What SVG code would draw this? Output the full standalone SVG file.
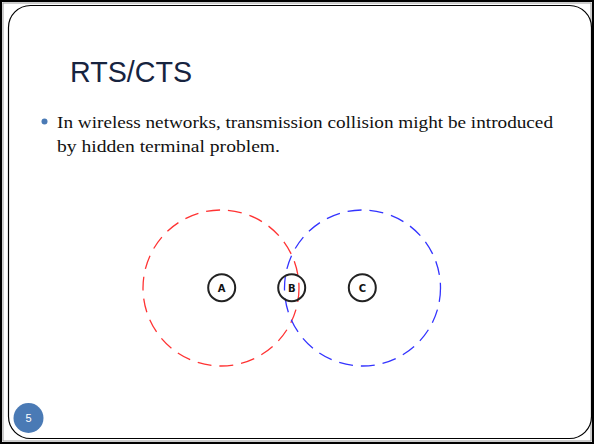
<svg xmlns="http://www.w3.org/2000/svg" width="594" height="444" viewBox="0 0 594 444">
<style>
.node circle{fill:#fff;stroke:#222;stroke-width:2}
.node text{font-family:"DejaVu Sans",sans-serif;font-weight:bold;font-size:10px;fill:#111;text-anchor:middle}
.range{fill:none;stroke-width:1.3;stroke-dasharray:14 8}
.body{font-family:"Liberation Serif",serif;font-size:17.5px;fill:#111}
</style>
<rect x="0" y="0" width="594" height="444" fill="#fff"/>
<rect x="1" y="1" width="592" height="442" fill="none" stroke="#000" stroke-width="2"/>
<rect x="3" y="3" width="588" height="438" fill="none" stroke="#999" stroke-width="1"/>
<rect x="8.5" y="5.5" width="583" height="433" rx="22" fill="#fff" stroke="#000" stroke-width="1.2"/>
<text x="70" y="82" font-family="'Liberation Sans',Arial,sans-serif" font-size="29" fill="#17243f" textLength="122" lengthAdjust="spacingAndGlyphs">RTS/CTS</text>
<circle cx="44.5" cy="121.5" r="3" fill="#4a7ab5"/>
<text class="body" x="57" y="128" textLength="496" lengthAdjust="spacingAndGlyphs">In wireless networks, transmission collision might be introduced</text>
<text class="body" x="57" y="152" textLength="223" lengthAdjust="spacingAndGlyphs">by hidden terminal problem.</text>
<g id="connectors">
<circle class="range" cx="221" cy="288" r="78" stroke="#ff3333"/>
<circle class="range" cx="362.5" cy="288" r="78" stroke="#3333ff"/>
</g>
<g id="A" class="node"><circle cx="221.7" cy="287.7" r="13.5"/><text x="221.7" y="291.5">A</text></g>
<g id="B" class="node"><circle cx="291.7" cy="287.7" r="13.5" style="fill:none"/><text x="291.7" y="291.5">B</text></g>
<g id="C" class="node"><circle cx="362.3" cy="287.7" r="13.5"/><text x="362.3" y="291.5">C</text></g>
<circle cx="28.5" cy="418" r="15" fill="#4a7ab5"/>
<text x="28.5" y="422" font-family="'Liberation Sans',Arial,sans-serif" font-size="11" fill="#fff" text-anchor="middle">5</text>
</svg>
